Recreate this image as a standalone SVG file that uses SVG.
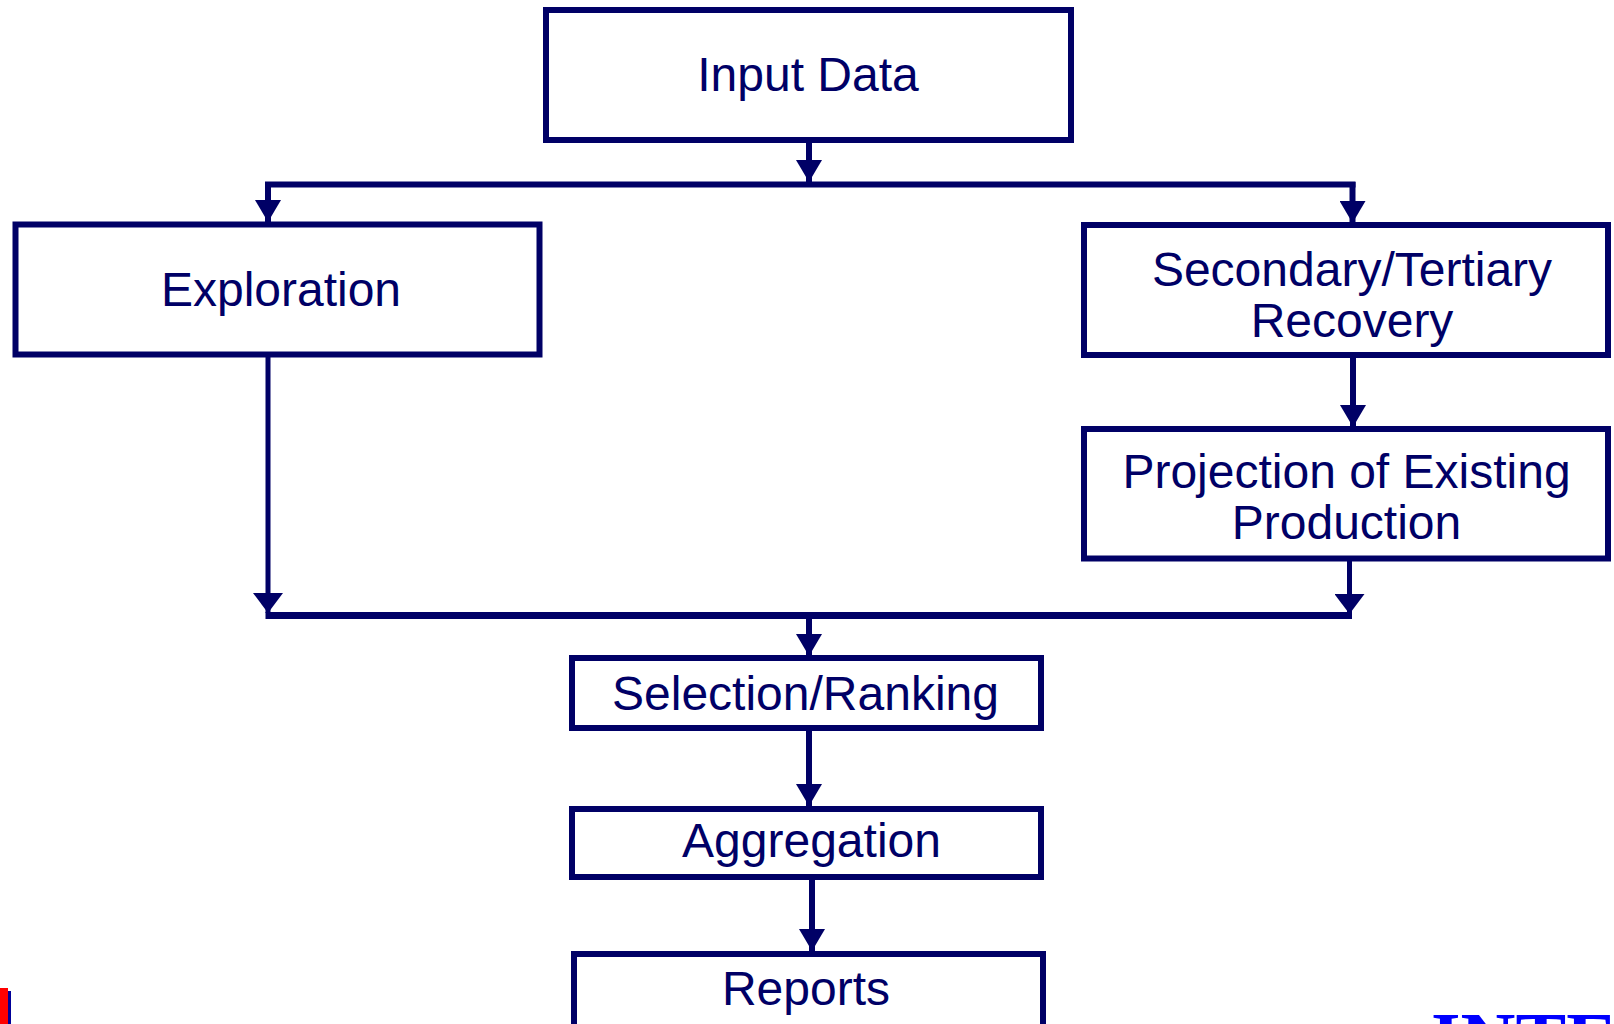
<svg xmlns="http://www.w3.org/2000/svg" width="1614" height="1024" viewBox="0 0 1614 1024">
  <style>
    .box { fill: #ffffff; stroke: #000066; stroke-width: 6; }
    .label { font-family: "Liberation Sans", Arial, sans-serif; font-size: 48px; fill: #000066; text-anchor: middle; }
    .wire { fill: none; stroke: #000066; stroke-width: 6; stroke-linecap: butt; stroke-linejoin: miter; }
    .wire.thin { stroke-width: 5; }
    .wire.bus { stroke-width: 7; }
  </style>
  <defs>
    <marker id="arrow" markerUnits="userSpaceOnUse" viewBox="0 0 22 26" refX="22" refY="13" markerWidth="22" markerHeight="26" orient="auto">
      <path d="M0,0 L22,13 L0,26 Z" fill="#000066"/>
    </marker>
    <marker id="arrow-wide" markerUnits="userSpaceOnUse" viewBox="0 0 20 30" refX="20" refY="15" markerWidth="20" markerHeight="30" orient="auto">
      <path d="M0,0 L20,15 L0,30 Z" fill="#000066"/>
    </marker>
  </defs>

  <rect width="1614" height="1024" fill="#ffffff"/>

  <!-- connectors -->
  <g id="connectors">
    <!-- Input Data to top bus -->
    <path class="wire" d="M809,140 L809,182" marker-end="url(#arrow)"/>
    <!-- top bus -->
    <path class="wire" d="M265,184.5 L1355.5,184.5"/>
    <path class="wire" d="M268,182 L268,222" marker-end="url(#arrow)"/>
    <path class="wire" d="M1352.5,182 L1352.5,223" marker-end="url(#arrow)"/>
    <!-- Secondary/Tertiary to Projection -->
    <path class="wire" d="M1353,355 L1353,427" marker-end="url(#arrow)"/>
    <!-- drops into lower bus -->
    <path class="wire thin" d="M268,354 L268,613" marker-end="url(#arrow-wide)"/>
    <path class="wire thin" d="M1349.5,558 L1349.5,614" marker-end="url(#arrow-wide)"/>
    <!-- lower bus -->
    <path class="wire bus" d="M265.5,615.5 L1352,615.5"/>
    <!-- lower bus to Selection/Ranking -->
    <path class="wire" d="M809,618 L809,656" marker-end="url(#arrow)"/>
    <!-- Selection/Ranking to Aggregation -->
    <path class="wire" d="M809,730 L809,806" marker-end="url(#arrow)"/>
    <!-- Aggregation to Reports -->
    <path class="wire" d="M812,879 L812,951" marker-end="url(#arrow)"/>
  </g>

  <g id="node-input">
    <rect class="box" x="546" y="10" width="525" height="130"/>
    <text class="label" x="808" y="91">Input Data</text>
  </g>

  <g id="node-exploration">
    <rect class="box" x="15.5" y="224.5" width="524" height="130"/>
    <text class="label" x="281" y="306">Exploration</text>
  </g>

  <g id="node-secondary">
    <rect class="box" x="1084" y="225" width="524" height="130"/>
    <text class="label" x="1352" y="286">Secondary/Tertiary</text>
    <text class="label" x="1352" y="337">Recovery</text>
  </g>

  <g id="node-projection">
    <rect class="box" x="1084" y="429" width="524" height="129.5"/>
    <text class="label" x="1346.5" y="488">Projection of Existing</text>
    <text class="label" x="1346.5" y="539">Production</text>
  </g>

  <g id="node-selection">
    <rect class="box" x="572" y="658" width="469" height="70"/>
    <text class="label" x="805.5" y="710">Selection/Ranking</text>
  </g>

  <g id="node-aggregation">
    <rect class="box" x="572" y="809" width="469" height="68"/>
    <text class="label" x="811.5" y="857">Aggregation</text>
  </g>

  <g id="node-reports">
    <rect class="box" x="574" y="954" width="469" height="80"/>
    <text class="label" x="806" y="1005">Reports</text>
  </g>

  <!-- page-edge marks -->
  <rect x="0" y="988" width="8" height="36" fill="#ff0000"/>
  <rect x="8" y="991" width="3" height="33" fill="#000099"/>
  <text x="1431" y="1065" font-family="'Liberation Serif', 'Times New Roman', serif" font-weight="bold" font-size="76" fill="#0000ff">INTE</text>
</svg>
